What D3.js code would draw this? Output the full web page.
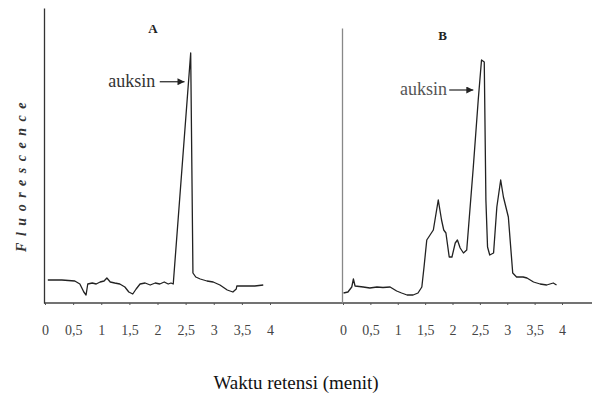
<!DOCTYPE html>
<html>
<head>
<meta charset="utf-8">
<script src="https://cdn.jsdelivr.net/npm/d3@7"></script>
<style>
  html, body { margin: 0; padding: 0; background: #fff; }
  svg { display: block; }
</style>
</head>
<body>
<svg id="chart" width="592" height="400"></svg>
<script>
// ---- Data ----
const tickValues = [0, 0.5, 1, 1.5, 2, 2.5, 3, 3.5, 4];
const tickLabels = ["0", "0,5", "1", "1,5", "2", "2,5", "3", "3,5", "4"];
const panelTitles = ["A", "B"];
const xAxisTitle = "Waktu retensi (menit)";
const yAxisTitle = "Fluorescence";
const peakLabel = "auksin";

// Panel A: retention time (min) and fluorescence (arbitrary units)
const timeA = [0.05, 0.30, 0.53, 0.62, 0.69, 0.73, 0.76, 0.84, 0.91, 0.98, 1.05, 1.10, 1.16, 1.24, 1.33, 1.42, 1.49, 1.56, 1.62, 1.69, 1.78, 1.87, 1.96, 2.04, 2.12, 2.19, 2.24, 2.28, 2.59, 2.63, 2.68, 2.76, 2.88, 2.99, 3.11, 3.24, 3.29, 3.34, 3.40, 3.41, 3.56, 3.73, 3.88];
const fluorA = [9.2, 9.2, 8.8, 7.6, 4.4, 3.2, 7.6, 8.0, 7.6, 8.4, 8.8, 10.0, 8.4, 8.0, 7.6, 6.4, 4.4, 3.6, 5.6, 7.6, 8.0, 7.2, 8.0, 7.6, 8.4, 7.6, 8.0, 7.6, 100.0, 12.0, 10.4, 9.6, 8.8, 8.4, 7.2, 5.2, 4.8, 4.4, 5.6, 6.8, 6.8, 6.8, 7.2];

// Panel B
const timeB = [0.01, 0.09, 0.16, 0.19, 0.22, 0.37, 0.49, 0.62, 0.73, 0.86, 0.98, 1.07, 1.17, 1.28, 1.37, 1.44, 1.48, 1.53, 1.59, 1.65, 1.74, 1.80, 1.84, 1.88, 1.94, 1.99, 2.05, 2.09, 2.14, 2.20, 2.26, 2.38, 2.47, 2.53, 2.58, 2.61, 2.64, 2.68, 2.75, 2.81, 2.88, 2.93, 3.02, 3.10, 3.17, 3.29, 3.36, 3.48, 3.60, 3.72, 3.84, 3.90];
const fluorB = [4.0, 4.4, 6.4, 9.6, 6.8, 6.4, 6.0, 6.4, 6.2, 6.4, 4.8, 4.0, 3.2, 3.2, 4.0, 6.4, 14.4, 25.2, 27.2, 29.2, 41.2, 33.2, 29.2, 28.0, 18.4, 18.4, 24.0, 25.2, 22.0, 20.0, 21.2, 54.4, 81.2, 97.2, 96.4, 41.2, 22.4, 19.2, 20.0, 38.4, 49.2, 42.4, 34.4, 12.0, 10.4, 10.4, 10.0, 8.4, 7.6, 7.2, 8.0, 7.2];

// annotation anchors (data units): text end, arrow start, arrow end, level; title position
const annotA = { textEnd: 1.96, arrowFrom: 2.04, arrowTo: 2.48, level: 88.5, titleT: 1.92, titleV: 110 };
const annotB = { textEnd: 1.90, arrowFrom: 1.94, arrowTo: 2.38, level: 85.2, titleT: 1.82, titleV: 107 };

// ---- Drawing ----
const svg = d3.select("#chart");
const serif = "'Liberation Serif', 'Times New Roman', serif";
const baseY = 303;

const xA = d3.scaleLinear().domain([0, 4]).range([45, 270]);
const xB = d3.scaleLinear().domain([0, 4]).range([343, 562]);
const yA = d3.scaleLinear().domain([0, 118]).range([baseY, 8]);
const yB = d3.scaleLinear().domain([0, 110]).range([baseY, 28]);

svg.append("defs").append("marker")
  .attr("id", "arrow")
  .attr("viewBox", "0 0 10 10")
  .attr("refX", 10).attr("refY", 5)
  .attr("markerWidth", 9).attr("markerHeight", 7)
  .attr("markerUnits", "userSpaceOnUse")
  .attr("orient", "auto")
  .append("path").attr("d", "M0,0 L10,5 L0,10 Z").attr("fill", "#222");

// long baseline running across both panels
svg.append("line")
  .attr("x1", xA(0) - 1).attr("x2", 592)
  .attr("y1", baseY).attr("y2", baseY)
  .attr("stroke", "#444").attr("stroke-width", 1.3);

function panel(x, y, times, values, title, annot, axisColor, textColor) {
  const g = svg.append("g");
  // x axis ticks & labels
  const ax = g.append("g").attr("transform", `translate(0,${baseY})`)
    .call(d3.axisBottom(x).tickValues(tickValues)
      .tickFormat((d, i) => tickLabels[i]).tickSize(2).tickPadding(20).tickSizeOuter(0));
  ax.attr("font-family", null);
  ax.select(".domain").remove();
  ax.selectAll(".tick line").attr("stroke", "#555");
  ax.selectAll(".tick text").style("font-family", serif).style("font-size", "14px")
    .attr("fill", "#444");
  // y axis line (no ticks)
  const ay = g.append("g").attr("transform", `translate(${x(0) - 1},0)`)
    .call(d3.axisLeft(y).tickValues([]).tickSizeOuter(0));
  ay.select(".domain").attr("stroke", axisColor).attr("stroke-width", 1.3);

  const pts = times.map((t, i) => [t, values[i]]);
  g.append("path").datum(pts)
    .attr("d", d3.line().x(d => x(d[0])).y(d => y(d[1])))
    .attr("fill", "none").attr("stroke", "#222").attr("stroke-width", 1.3)
    .attr("stroke-linejoin", "round");

  g.append("text").attr("x", x(annot.titleT)).attr("y", y(annot.titleV))
    .attr("dy", "0.35em").attr("text-anchor", "middle")
    .style("font-family", serif).style("font-weight", "bold").style("font-size", "13px")
    .attr("fill", "#222").text(title);

  g.append("text").attr("x", x(annot.textEnd)).attr("y", y(annot.level))
    .attr("dy", "0.3em").attr("text-anchor", "end")
    .style("font-family", serif).style("font-size", "18px")
    .attr("fill", textColor).text(peakLabel);
  g.append("line")
    .attr("x1", x(annot.arrowFrom)).attr("x2", x(annot.arrowTo))
    .attr("y1", y(annot.level)).attr("y2", y(annot.level))
    .attr("stroke", "#222").attr("stroke-width", 1.2)
    .attr("marker-end", "url(#arrow)");
}

panel(xA, yA, timeA, fluorA, panelTitles[0], annotA, "#333", "#333");
panel(xB, yB, timeB, fluorB, panelTitles[1], annotB, "#888", "#555");

// y axis title
svg.append("text")
  .attr("transform", "translate(26,174) rotate(-90)")
  .attr("text-anchor", "middle")
  .style("font-family", serif).style("font-style", "italic").style("font-weight", "bold")
  .style("font-size", "14px").attr("letter-spacing", 6.5).attr("fill", "#333")
  .text(yAxisTitle);

// x axis title
svg.append("text")
  .attr("x", 296).attr("y", 389)
  .attr("text-anchor", "middle")
  .style("font-family", serif).style("font-size", "19px").attr("fill", "#111")
  .text(xAxisTitle);
</script>
</body>
</html>
